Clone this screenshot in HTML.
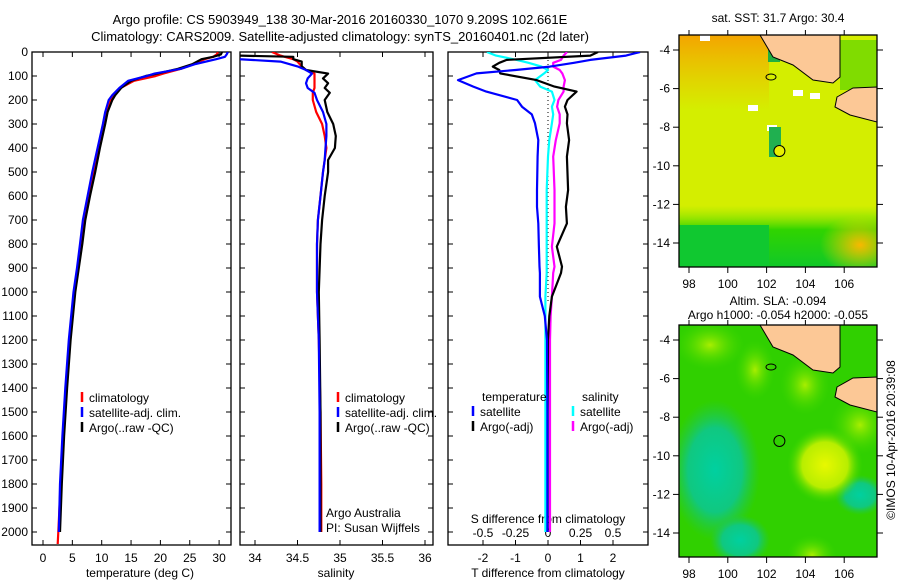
<!DOCTYPE html>
<html><head><meta charset="utf-8"><style>
body{margin:0;background:#fff;}
svg{display:block;font-family:"Liberation Sans",sans-serif;}
</style></head><body>
<svg id="c" width="900" height="580" viewBox="0 0 900 580">
<defs>
<radialGradient id="gY" cx="0.5" cy="0.5" r="0.5"><stop offset="0" stop-color="#e8f800"/><stop offset="0.6" stop-color="#b8ee00"/><stop offset="1" stop-color="#40d800" stop-opacity="0"/></radialGradient>
<radialGradient id="gC" cx="0.5" cy="0.5" r="0.5"><stop offset="0" stop-color="#00d0a0"/><stop offset="0.6" stop-color="#10c880"/><stop offset="1" stop-color="#20c850" stop-opacity="0"/></radialGradient>
<radialGradient id="gL" cx="0.5" cy="0.5" r="0.5"><stop offset="0" stop-color="#a8ee00"/><stop offset="1" stop-color="#40d800" stop-opacity="0"/></radialGradient>
<linearGradient id="gO" x1="0" y1="0" x2="0" y2="1"><stop offset="0" stop-color="#f4a400"/><stop offset="1" stop-color="#f4b400" stop-opacity="0"/></linearGradient>
<linearGradient id="gG" x1="0" y1="1" x2="0" y2="0"><stop offset="0" stop-color="#10c828"/><stop offset="0.6" stop-color="#30d400"/><stop offset="1" stop-color="#90e800" stop-opacity="0"/></linearGradient>
<radialGradient id="gOr" cx="0.5" cy="0.5" r="0.5"><stop offset="0" stop-color="#f8b800"/><stop offset="1" stop-color="#f0d800" stop-opacity="0"/></radialGradient>
<clipPath id="cp1"><rect x="32" y="52" width="199" height="493"/></clipPath>
<clipPath id="cp2"><rect x="240" y="52" width="193" height="493"/></clipPath>
<clipPath id="cp3"><rect x="448" y="52" width="200" height="493"/></clipPath>
</defs>
<g font-size="13" text-anchor="middle">
<text x="340" y="24">Argo profile: CS 5903949_138 30-Mar-2016 20160330_1070 9.209S 102.661E</text>
<text x="340" y="41">Climatology: CARS2009. Satellite-adjusted climatology: synTS_20160401.nc (2d later)</text>
</g>
<g id="g"></g>
</svg>
<script>
// ---- data ----
var tDepth=[0,10,20,30,50,70,90,100,120,150,180,200,250,300,400,500,600,700,800,900,1000,1200,1400,1600,1800,2000,2050];
var tArgo=[30.5,30.3,29,27,25.5,23,19.5,17.5,15,13.3,12.3,11.8,11,10.6,9.7,8.9,8.0,7.2,6.7,6.1,5.5,4.7,4.1,3.6,3.2,2.9,2.8];
var tClim=[29.8,29.6,29,27.5,25.8,23.5,20.5,19.2,15.5,13.2,12.1,11.5,10.8,10.3,9.5,8.6,7.8,7.0,6.5,5.9,5.3,4.5,3.9,3.4,3.0,2.6,2.5];
var tSat=[31.5,31.3,31,29.5,26,23.5,19,17.7,14.5,13,11.8,11.2,10.6,10.2,9.3,8.4,7.6,6.8,6.3,5.8,5.2,4.4,3.8,3.3,2.9,2.7,2.7];
var sDepth=[0,15,20,30,40,60,75,90,110,130,150,170,200,250,300,350,400,450,500,600,700,800,1000,1200,1500,1800,2000];
var sArgo=[33.8,33.8,34.45,34.45,34.55,34.55,34.6,34.86,34.8,34.86,34.82,34.88,34.82,34.85,34.92,34.95,34.94,34.86,34.86,34.82,34.79,34.77,34.75,34.76,34.77,34.77,34.77];
var sClim=[34.2,34.3,34.35,34.45,34.5,34.55,34.6,34.7,34.7,34.7,34.7,34.68,34.68,34.72,34.79,34.82,34.84,34.82,34.8,34.77,34.74,34.73,34.73,34.75,34.77,34.78,34.78];
var sSat=[33.8,33.8,33.8,33.82,34.3,34.5,34.6,34.67,34.62,34.6,34.62,34.7,34.73,34.8,34.84,34.84,34.83,34.82,34.8,34.77,34.74,34.73,34.73,34.75,34.76,34.76,34.76];
var dDepth=[0,15,33,45,61,75,89,117,144,165,200,228,260,297,367,436,575,645,714,811,894,921,1019,1100,1200,1500,2000];
var dTsat=[2.83,2.4,1.3,0.8,0.06,-1.0,-2.2,-2.77,-2.3,-1.9,-0.95,-0.8,-0.5,-0.4,-0.3,-0.32,-0.34,-0.34,-0.3,-0.28,-0.26,-0.25,-0.25,-0.1,-0.03,-0.02,-0.02];
var dTargo=[1.54,1.3,-1.27,-1.5,-1.7,-1.5,-1.47,-0.35,0.2,0.88,0.6,0.52,0.6,0.58,0.65,0.58,0.62,0.55,0.58,0.27,0.43,0.4,0.12,0.04,0.0,-0.01,-0.01];
var dSargo=[0.146,0.12,0.1,0.04,0.04,0.09,0.11,0.13,0.12,0.12,0.08,0.07,0.09,0.09,0.06,0.04,0.05,0.05,0.05,0.03,0.05,0.04,0.03,0.02,0.015,0.015,0.015];
var dSsat=[-0.47,-0.4,-0.24,-0.15,-0.05,0,-0.03,-0.1,-0.06,0.03,0.05,0.03,0.04,0.03,0.01,0,-0.01,-0.01,-0.01,-0.01,-0.01,-0.01,-0.02,-0.02,-0.02,-0.02,-0.02];
var depthTicks=[0,100,200,300,400,500,600,700,800,900,1000,1100,1200,1300,1400,1500,1600,1700,1800,1900,2000];
var tTicks=[0,5,10,15,20,25,30];
var sTicks=[34,34.5,35,35.5,36];
var dTTicks=[-2,-1,0,1,2];
var dSTicks=[-0.5,-0.25,0,0.25,0.5];
var lonTicks=[98,100,102,104,106];
var latTicks=[-4,-6,-8,-10,-12,-14];
// ---- scales ----
var NS='http://www.w3.org/2000/svg';
var G=document.getElementById('g');
function yD(d){return 52+d*0.24;}
function xT(v){return 43+v*5.87;}
function xS(v){return 255+(v-34)*85;}
function xDT(v){return 548+v*32.5;}
function xDS(v){return 548+v*130;}
function el(tag,at,par){var e=document.createElementNS(NS,tag);for(var k in at)e.setAttribute(k,at[k]);(par||G).appendChild(e);return e;}
function txt(x,y,s,anc,size,par){var t=el('text',{x:x,y:y,'font-size':size||12,'text-anchor':anc||'start'},par);t.textContent=s;return t;}
function prof(depths,vals,xs,col,w,clip,name){
  var p='';for(var i=0;i<depths.length;i++){p+=(i?'L':'M')+xs(vals[i]).toFixed(1)+' '+yD(depths[i]).toFixed(1);}
  var e=el('path',{d:p,fill:'none',stroke:col,'stroke-width':w,'stroke-linejoin':'round','clip-path':'url(#'+clip+')'});
  
  
}
function frame(x0,x1,name){
  var r=el('rect',{x:x0,y:52,width:x1-x0,height:493,fill:'none',stroke:'#000','stroke-width':1.3});
  
  
  depthTicks.forEach(function(d){var y=yD(d);el('line',{x1:x0,x2:x0+5,y1:y,y2:y,stroke:'#000'});el('line',{x1:x1-5,x2:x1,y1:y,y2:y,stroke:'#000'});});
}
function xticks(ticks,xs,lblY,fmt,top,bottom){
  ticks.forEach(function(v){var x=xs(v);
    if(bottom){el('line',{x1:x,x2:x,y1:545,y2:540,stroke:'#000'});}
    if(top){el('line',{x1:x,x2:x,y1:52,y2:57,stroke:'#000'});}
    if(lblY){var t=txt(x,lblY,fmt?fmt(v):String(v),'middle',12);}
  });
}
// panel 1
frame(32,231,'temperature-panel');
depthTicks.forEach(function(d){var t=txt(28,yD(d)+4,String(d),'end',12);});
xticks(tTicks,xT,562,null,true,true);
txt(140,577,'temperature (deg C)','middle',12);
prof(tDepth,tClim,xT,'#f00',2.2,'cp1','temp-climatology-line');
prof(tDepth.slice(0,26),tArgo.slice(0,26),xT,'#000',2.2,'cp1','temp-argo-line');
prof(tDepth.slice(0,26),tSat.slice(0,26),xT,'#00f',2.2,'cp1','temp-satellite-line');
// panel 2
frame(240,433,'salinity-panel');
xticks(sTicks,xS,562,null,true,true);
txt(336,577,'salinity','middle',12);
prof(sDepth,sClim,xS,'#f00',2.2,'cp2','sal-climatology-line');
prof(sDepth,sArgo,xS,'#000',2.2,'cp2','sal-argo-line');
prof(sDepth,sSat,xS,'#00f',2.2,'cp2','sal-satellite-line');
// panel 3
frame(448,648,'difference-panel');
xticks(dTTicks,xDT,562,null,false,true);
xticks(dSTicks,xDS,537,null,true,false);
txt(548,523,'S difference from climatology','middle',12);
txt(548,577,'T difference from climatology','middle',12);
el('line',{x1:548,x2:548,y1:52,y2:yD(1050),stroke:'#000','stroke-dasharray':'1 3'});
prof(dDepth,dSsat,xDS,'#0ff',2.2,'cp3','s-diff-satellite-line');
prof(dDepth,dSargo,xDS,'#f0f',2.2,'cp3','s-diff-argo-line');
prof(dDepth,dTargo,xDT,'#000',2.2,'cp3','t-diff-argo-line');
prof(dDepth,dTsat,xDT,'#00f',2.2,'cp3','t-diff-satellite-line');
// legends
function leg(x,y,col,label){el('line',{x1:x,x2:x,y1:y-10,y2:y,stroke:col,'stroke-width':2.5});if(label)txt(x+7,y,label,'start',12);}
[[82,'temperature-legend'],[338,'salinity-legend']].forEach(function(a){
  var x=a[0];leg(x,402,'#f00','climatology');leg(x,417,'#00f','satellite-adj. clim.');leg(x,432,'#000','Argo(..raw -QC)');});
txt(482,401,'temperature','start',12);txt(582,401,'salinity','start',12);
leg(473,416,'#00f','satellite');leg(473,431,'#000','Argo(-adj)');
leg(573,416,'#0ff','satellite');leg(573,431,'#f0f','Argo(-adj)');
txt(326,517,'Argo Australia','start',12);txt(326,532,'PI: Susan Wijffels','start',12);
// maps
function lonX(l){return 689+(l-98)*19.4;}
function map(y0,kind){
  var g=el('g',{});
  
  
  var cid='mc'+y0;var cp=el('clipPath',{id:cid});el('rect',{x:679,y:y0,width:198,height:232},cp);
  var c=el('g',{'clip-path':'url(#'+cid+')'},g);
  if(kind==='sst'){
    el('rect',{x:679,y:y0,width:198,height:232,fill:'#d4ee00'},c);
    el('rect',{x:679,y:y0,width:90,height:75,fill:'url(#gO)'},c);
    el('rect',{x:679,y:y0+170,width:198,height:62,fill:'url(#gG)'},c);
    el('rect',{x:679,y:y0+190,width:90,height:42,fill:'#10c830'},c);
    el('ellipse',{cx:860,cy:y0+210,rx:40,ry:30,fill:'url(#gOr)'},c);
    el('rect',{x:840,y:y0+5,width:37,height:50,fill:'#80dc00'},c);
    el('rect',{x:768,y:y0+15,width:12,height:12,fill:'#20b040'},c);
    [[700,35],[748,105],[793,90],[810,93],[767,125]].forEach(function(p){el('rect',{x:p[0],y:p[1],width:10,height:6,fill:'#fff'},c);});
    el('rect',{x:769,y:y0+92,width:12,height:30,fill:'#20b050'},c);
  } else {
    el('rect',{x:679,y:y0,width:198,height:232,fill:'#30d000'},c);
    el('ellipse',{cx:715,cy:y0+145,rx:45,ry:70,fill:'url(#gC)'},c);
    el('ellipse',{cx:740,cy:y0+215,rx:30,ry:25,fill:'url(#gC)'},c);
    el('ellipse',{cx:860,cy:y0+170,rx:25,ry:20,fill:'url(#gC)'},c);
    el('ellipse',{cx:825,cy:y0+140,rx:38,ry:38,fill:'url(#gY)'},c);
    el('ellipse',{cx:812,cy:y0+230,rx:25,ry:20,fill:'url(#gL)'},c);
    el('ellipse',{cx:805,cy:y0+60,rx:25,ry:30,fill:'url(#gL)'},c);
    el('ellipse',{cx:710,cy:y0+20,rx:35,ry:25,fill:'url(#gL)'},c);
    el('ellipse',{cx:755,cy:y0+45,rx:20,ry:30,fill:'url(#gL)'},c);
    el('ellipse',{cx:860,cy:y0+100,rx:30,ry:30,fill:'url(#gL)'},c);
  }
  var o=y0-35;
  el('polygon',{points:[[760,35],[773,57],[793,65],[813,80],[833,83],[840,77],[840,35]].map(function(p){return p[0]+','+(p[1]+o);}).join(' '),fill:'#fcc896',stroke:'#000','stroke-width':1},c);
  el('polygon',{points:[[837,97],[853,88],[877,87],[877,122],[850,115],[835,107]].map(function(p){return p[0]+','+(p[1]+o);}).join(' '),fill:'#fcc896',stroke:'#000','stroke-width':1},c);
  el('ellipse',{cx:771,cy:y0+42,rx:5,ry:3,fill:'none',stroke:'#000'},c);
  el('circle',{cx:lonX(102.66),cy:y0+116,r:5.5,fill:kind==='sst'?'#e8f000':'none',stroke:'#000'},c);
  el('rect',{x:679,y:y0,width:198,height:232,fill:'none',stroke:'#000','stroke-width':1.3},g);
  lonTicks.forEach(function(l){var x=lonX(l);el('line',{x1:x,x2:x,y1:y0+232,y2:y0+238,stroke:'#000'},g);el('line',{x1:x,x2:x,y1:y0,y2:y0-5,stroke:'#000'},g);txt(x,y0+253,String(l),'middle',12,g);});
  latTicks.forEach(function(l){var y=y0+15+(-4-l)*19.3;el('line',{x1:673,x2:679,y1:y,y2:y,stroke:'#000'},g);el('line',{x1:877,x2:883,y1:y,y2:y,stroke:'#000'},g);txt(670,y+4,String(l),'end',12,g);});
}
map(35,'sst');
map(325,'sla');
txt(778,22,'sat. SST: 31.7 Argo: 30.4','middle',12);
txt(778,305,'Altim. SLA: -0.094','middle',12);
txt(778,319,'Argo h1000: -0.054 h2000: -0.055','middle',12);
var r=txt(0,0,'\u00a9IMOS 10-Apr-2016 20:39:08','middle',12);
r.setAttribute('transform','translate(895,440) rotate(-90)');


</script>
</body></html>
